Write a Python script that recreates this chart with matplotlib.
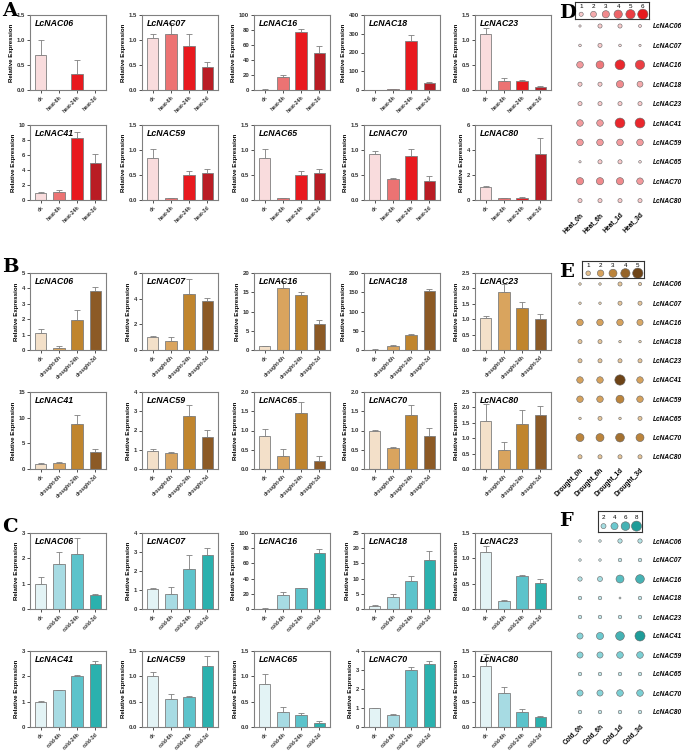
import numpy as np
import matplotlib
matplotlib.use("Agg")
import matplotlib.pyplot as plt
from matplotlib.colors import LinearSegmentedColormap

plt.rcParams['font.family'] = ['Liberation Sans', 'DejaVu Sans']

W, H = 685, 752

genes = ['LcNAC06', 'LcNAC07', 'LcNAC16', 'LcNAC18', 'LcNAC23',
         'LcNAC41', 'LcNAC59', 'LcNAC65', 'LcNAC70', 'LcNAC80']

heat_cats = ['ck', 'heat-6h', 'heat-24h', 'heat-3d']
drought_cats = ['ck', 'drought-6h', 'drought-24h', 'drought-3d']
cold_cats = ['ck', 'cold-6h', 'cold-24h', 'cold-3d']

# bar means / upper error / y-axis max / tick step
heat_mean = [[0.7, 0.0, 0.32, 0.005], [1.05, 1.12, 0.88, 0.46], [0.5, 17, 78, 49],
             [0.5, 5, 260, 35], [1.13, 0.19, 0.19, 0.06], [0.95, 1.1, 8.3, 5.0],
             [0.85, 0.04, 0.5, 0.55], [0.85, 0.04, 0.5, 0.55], [0.93, 0.42, 0.88, 0.38],
             [1.05, 0.15, 0.2, 3.65]]
heat_err = [[0.3, 0, 0.28, 0.005], [0.07, 0.22, 0.25, 0.1], [0.3, 3, 3, 10],
            [0.3, 2, 35, 8], [0.12, 0.05, 0.02, 0.02], [0.1, 0.3, 0.8, 1.2],
            [0.17, 0.01, 0.08, 0.07], [0.17, 0.01, 0.08, 0.07], [0.05, 0.03, 0.15, 0.1],
            [0.05, 0.03, 0.08, 1.35]]
heat_ymax = [1.5, 1.5, 100, 400, 1.5, 10, 1.5, 1.5, 1.5, 6]
heat_step = [0.5, 0.5, 20, 100, 0.5, 2, 0.5, 0.5, 0.5, 2]

drought_mean = [[1.08, 0.15, 1.97, 3.8], [1.02, 0.7, 4.4, 3.85], [1.0, 16.2, 14.2, 6.8],
                [0.8, 10, 38, 152], [1.05, 1.88, 1.35, 1.02], [1.0, 1.2, 8.7, 3.4],
                [0.93, 0.85, 2.75, 1.65], [0.85, 0.35, 1.45, 0.2], [1.0, 0.55, 1.4, 0.87],
                [1.55, 0.62, 1.45, 1.75]]
drought_err = [[0.3, 0.12, 0.6, 0.3], [0.07, 0.35, 1.1, 0.2], [0.1, 1.6, 0.9, 1.1],
               [0.5, 2, 4, 7], [0.06, 0.25, 0.2, 0.15], [0.1, 0.1, 1.9, 0.4],
               [0.1, 0.05, 0.6, 0.4], [0.18, 0.18, 0.28, 0.13], [0.01, 0.01, 0.25, 0.2],
               [0.55, 0.25, 0.45, 0.28]]
drought_ymax = [5, 6, 20, 200, 2.5, 15, 4, 2.0, 2.0, 2.5]
drought_step = [1, 2, 5, 50, 0.5, 5, 1, 0.5, 0.5, 0.5]

cold_mean = [[1.0, 1.77, 2.17, 0.55], [1.05, 0.8, 2.12, 2.85], [0.5, 19, 27, 74],
             [1.0, 3.8, 9.2, 16], [1.12, 0.15, 0.66, 0.52], [1.0, 1.45, 2.0, 2.5],
             [1.0, 0.55, 0.6, 1.2], [0.85, 0.3, 0.24, 0.08], [1.0, 0.65, 3.0, 3.3],
             [1.2, 0.68, 0.3, 0.2]]
cold_err = [[0.27, 0.48, 0.65, 0.04], [0.05, 0.35, 0.7, 0.35], [0.3, 3, 0.5, 5],
            [0.3, 1, 1.8, 3], [0.13, 0.02, 0.02, 0.07], [0.02, 0.02, 0.05, 0.1],
            [0.08, 0.1, 0.01, 0.2], [0.2, 0.1, 0.04, 0.03], [0.02, 0.05, 0.15, 0.2],
            [0.25, 0.1, 0.05, 0.02]]
cold_ymax = [3, 4, 100, 25, 1.5, 3, 1.5, 1.5, 4, 1.5]
cold_step = [1, 1, 20, 5, 0.5, 1, 0.5, 0.5, 1, 0.5]

heat_cols = ['#f9dcdd', '#ec7373', '#e8191e', '#b91c24']
drought_cols = ['#f3e0c9', '#d9a45e', '#c0852e', '#8c5a26']
cold_cols = ['#e3f3f5', '#a7dbe3', '#5cc3cb', '#2bb1ae']

# dot plots (rows = genes, cols = 0h, 6h, 1d, 3d)
heat_dot_x = ['Heat_0h', 'Heat_6h', 'Heat_1d', 'Heat_3d']
heat_dot = [[0.3, 1.0, 1.0, 0.5], [0.4, 1.0, 0.4, 0.3], [2.5, 3.5, 5.6, 5.0],
            [1.0, 1.0, 3.0, 2.0], [1.0, 1.0, 1.0, 1.0], [2.5, 2.5, 5.6, 5.6],
            [2.5, 2.5, 2.5, 2.5], [0.3, 1.0, 1.0, 0.4], [3.0, 3.0, 3.0, 2.5],
            [1.0, 1.0, 1.0, 1.0]]
heat_leg = [1, 2, 3, 4, 5, 6]

drought_dot_x = ['Drought_0h', 'Drought_6h', 'Drought_1d', 'Drought_3d']
drought_dot = [[0.3, 0.3, 0.8, 0.5], [0.3, 0.3, 0.8, 0.8], [2.0, 2.0, 2.0, 1.8],
               [0.8, 0.8, 0.3, 0.3], [0.8, 0.8, 0.8, 0.8], [2.0, 2.0, 5.0, 2.0],
               [2.0, 2.0, 3.0, 2.0], [0.3, 0.8, 0.3, 0.8], [3.0, 3.0, 3.6, 3.0],
               [0.8, 0.8, 0.8, 0.8]]
drought_leg = [1, 2, 3, 4, 5]

cold_dot_x = ['Cold_0h', 'Cold_6h', 'Cold_1d', 'Cold_3d']
cold_dot = [[0.5, 0.5, 1.5, 1.5], [0.5, 0.5, 1.0, 1.0], [1.5, 2.0, 5.0, 6.0],
            [1.0, 1.0, 0.3, 1.0], [1.0, 1.0, 1.0, 1.0], [3.0, 4.0, 6.0, 8.0],
            [3.0, 3.0, 3.5, 3.5], [1.0, 1.0, 1.0, 1.0], [3.0, 3.0, 3.5, 3.5],
            [1.0, 1.0, 1.0, 1.0]]
cold_leg = [2, 4, 6, 8]

fig = plt.figure(figsize=(W / 100, H / 100), dpi=100)


def ax_px(l, t, w, h):
    return fig.add_axes([l / W, 1 - (t + h) / H, w / W, h / H])


def fmt_tick(v, step):
    if step < 1:
        return '%.1f' % v
    return '%d' % v


def bar_panel(ax, gene, cats, mean, err, ymax, step, cols):
    x = np.arange(len(cats))
    ax.bar(x, mean, width=0.62, color=cols, edgecolor='#7f7f7f', linewidth=0.6, zorder=2)
    ax.errorbar(x, mean, yerr=[np.zeros(len(err)), err], fmt='none', ecolor='#7f7f7f',
                elinewidth=0.6, capsize=2, capthick=0.6, zorder=1)
    ax.set_xlim(-0.6, len(cats) - 0.4)
    ax.set_ylim(0, ymax)
    ticks = np.arange(0, ymax + step / 2, step)
    ax.set_yticks(ticks)
    ax.set_yticklabels([fmt_tick(t, step) for t in ticks], fontsize=4.3, fontweight='bold')
    ax.set_xticks(x)
    ax.set_xticklabels(cats, rotation=45, ha='right', rotation_mode='anchor',
                       fontsize=3.8, fontweight='bold')
    ax.tick_params(length=2, width=0.6, pad=1.5, colors='#333333')
    for s in ax.spines.values():
        s.set_color('#808080')
        s.set_linewidth(0.8)
    ax.set_ylabel('Relative Expression', fontsize=4.4, fontweight='bold', labelpad=2)
    ax.text(0.06, 0.95, gene, transform=ax.transAxes, ha='left', va='top',
            fontsize=6.3, fontweight='bold', style='italic')


col_left = [30, 142, 254, 364, 475]
bar_w = 76
rows = [
    (heat_cats, heat_mean, heat_err, heat_ymax, heat_step, heat_cols, [15, 125], 75),
    (drought_cats, drought_mean, drought_err, drought_ymax, drought_step, drought_cols, [273, 392], 77),
    (cold_cats, cold_mean, cold_err, cold_ymax, cold_step, cold_cols, [533, 651], 76),
]
for cats, mean, err, ymax, step, cols, tops, h in rows:
    for i in range(10):
        r, c = divmod(i, 5)
        ax = ax_px(col_left[c], tops[r], bar_w, h)
        bar_panel(ax, genes[i], cats, mean[i], err[i], ymax[i], step[i], cols)


def dot_panel(top, row_h, vals, xlabels, leg_vals, leg_box, cmap, scale, vmax):
    ax = ax_px(570, top - row_h / 2, 80, row_h * 10)
    vals = np.array(vals)
    xx, yy = np.meshgrid(np.arange(4), np.arange(10))
    ax.scatter(xx.ravel(), yy.ravel(), s=vals.ravel() * scale, c=vals.ravel(), cmap=cmap,
               vmin=0, vmax=vmax, edgecolors='#666666', linewidths=0.4)
    ax.set_xlim(-0.5, 3.5)
    ax.set_ylim(9.5, -0.5)
    for s in ax.spines.values():
        s.set_visible(False)
    ax.set_yticks(np.arange(10))
    ax.yaxis.tick_right()
    ax.set_yticklabels(genes, fontsize=4.7, fontweight='bold', style='italic')
    ax.set_xticks(np.arange(4))
    ax.set_xticklabels(xlabels, rotation=45, ha='right', rotation_mode='anchor',
                       fontsize=4.8, fontweight='bold')
    ax.tick_params(axis='y', length=0, pad=2)
    ax.tick_params(axis='x', length=0, pad=0.5)
    # size legend box
    l, t, w, h = leg_box
    lax = ax_px(l, t, w, h)
    n = len(leg_vals)
    lx = np.arange(n)
    lax.scatter(lx, np.zeros(n), s=np.array(leg_vals) * scale, c=leg_vals, cmap=cmap,
                vmin=0, vmax=vmax, edgecolors='#666666', linewidths=0.4)
    for xi, v in zip(lx, leg_vals):
        lax.text(xi, 0.75, str(v), ha='center', va='bottom', fontsize=4.5)
    lax.set_xlim(-0.5, n - 0.5)
    lax.set_ylim(-0.7, 1.8)
    lax.set_xticks([])
    lax.set_yticks([])
    for s in lax.spines.values():
        s.set_color('#333333')
        s.set_linewidth(0.8)


heat_cmap = LinearSegmentedColormap.from_list('h', ['#fde9ea', '#f08a8d', '#e8191e'])
drought_cmap = LinearSegmentedColormap.from_list('d', ['#f1dcc0', '#cf9444', '#6e4417'])
cold_cmap = LinearSegmentedColormap.from_list('c', ['#dff2f4', '#6cc9cf', '#1f9c99'])

dot_panel(26, 19.4, heat_dot, heat_dot_x, heat_leg, (575, 2, 74, 17), heat_cmap, 9, 6)
dot_panel(284, 19.2, drought_dot, drought_dot_x, drought_leg, (582, 261, 62, 17), drought_cmap, 11, 5)
dot_panel(541, 19.0, cold_dot, cold_dot_x, cold_leg, (598, 511, 44, 21), cold_cmap, 6.5, 8)

for lab, x, y in [('A', 2, 16), ('B', 2, 272), ('C', 2, 532), ('D', 559, 18), ('E', 559, 277), ('F', 559, 526)]:
    fig.text(x / W, 1 - y / H, lab, fontsize=14, fontweight='bold', family='DejaVu Serif',
             ha='left', va='baseline')

fig.savefig('out.png', dpi=100)
